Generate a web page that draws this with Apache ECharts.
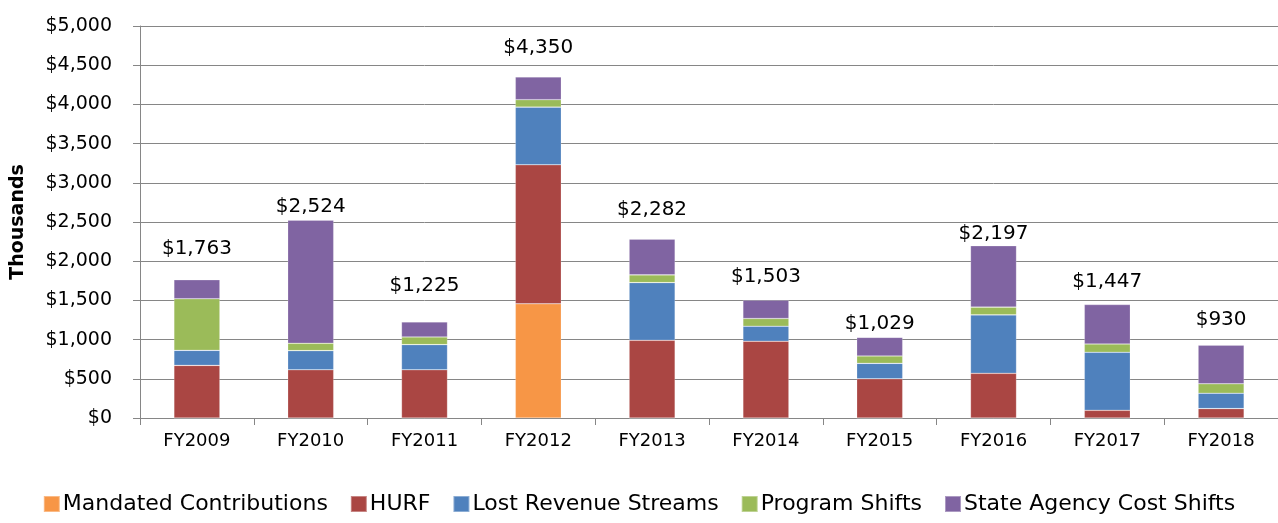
<!DOCTYPE html>
<html>
<head>
<meta charset="utf-8">
<script src="https://cdn.jsdelivr.net/npm/echarts@6/dist/echarts.min.js"></script>
<style>
html,body{margin:0;padding:0;background:#fff;}
#chart{width:1278px;height:523px;}
</style>
</head>
<body>
<div id="chart"></div>
<script>
const categories = ['FY2009','FY2010','FY2011','FY2012','FY2013','FY2014','FY2015','FY2016','FY2017','FY2018'];
const mandated = [0, 0, 0, 1457, 0, 0, 0, 0, 0, 0];
const hurf     = [671, 615, 615, 1773, 991, 979, 500, 570, 98, 120];
const lostRev  = [192, 244, 321, 735, 736, 192, 197, 745, 740, 196];
const program  = [658, 94, 98, 95, 99, 98, 94, 99, 106, 120];
const stateAg  = [242, 1571, 191, 290, 456, 234, 238, 783, 503, 494];
const totals   = [1763, 2524, 1225, 4350, 2282, 1503, 1029, 2197, 1447, 930];
const yTicks = {min: 0, max: 5000, interval: 500};

// label distance above bar tops (layout only)
const labelDistance = [21, 3, 26, 19, 19, 13, 4, 2, 13, 15];

const FONT = 'DejaVu Sans';
const fmt = v => '$' + v.toLocaleString('en-US');

function mk(name, data, color, withLabel) {
  return {
    name: name,
    type: 'bar',
    stack: 'total',
    barWidth: 46,
    itemStyle: {color: color, borderColor: 'rgba(255,255,255,0.35)', borderWidth: 0.6},
    emphasis: {disabled: true},
    data: data.map((v, i) => {
      const d = {value: v};
      if (withLabel) {
        d.label = {
          show: true, position: 'top', distance: labelDistance[i],
          formatter: () => fmt(totals[i]),
          color: '#000', fontFamily: FONT, fontSize: 20
        };
      }
      return d;
    })
  };
}

const chart = echarts.init(document.getElementById('chart'));
chart.setOption({
  animation: false,
  backgroundColor: '#fff',
  grid: {left: 140, right: 0, top: 26, bottom: 105, containLabel: false, outerBoundsMode: 'none'},
  legend: {
    bottom: 3, left: 'center',
    itemWidth: 16, itemHeight: 16, itemGap: 22,
    icon: 'rect',
    textStyle: {fontFamily: FONT, fontSize: 22, color: '#000', padding: [0, 0, 0, -2]},
    data: ['Mandated Contributions', 'HURF', 'Lost Revenue Streams', 'Program Shifts', 'State Agency Cost Shifts']
  },
  xAxis: {
    type: 'category',
    data: categories,
    axisLine: {lineStyle: {color: '#868686', width: 1}},
    axisTick: {show: true, alignWithLabel: false, length: 7, lineStyle: {color: '#868686'}},
    axisLabel: {fontFamily: FONT, fontSize: 18, color: '#000', margin: 14}
  },
  yAxis: {
    type: 'value',
    min: yTicks.min, max: yTicks.max, interval: yTicks.interval,
    name: 'Thousands',
    nameLocation: 'middle',
    nameGap: 112,
    nameTextStyle: {fontFamily: FONT, fontSize: 19, fontWeight: 'bold', color: '#000'},
    axisLine: {show: true, lineStyle: {color: '#868686', width: 1}},
    axisTick: {show: true, length: 7, lineStyle: {color: '#868686'}},
    splitLine: {lineStyle: {color: '#868686', width: 1}},
    axisLabel: {fontFamily: FONT, fontSize: 19, color: '#000', margin: 28, formatter: v => fmt(v)}
  },
  series: [
    mk('Mandated Contributions', mandated, '#F79646', false),
    mk('HURF', hurf, '#AA4643', false),
    mk('Lost Revenue Streams', lostRev, '#4F81BD', false),
    mk('Program Shifts', program, '#9BBB59', false),
    mk('State Agency Cost Shifts', stateAg, '#8064A2', true)
  ]
});
</script>
</body>
</html>
